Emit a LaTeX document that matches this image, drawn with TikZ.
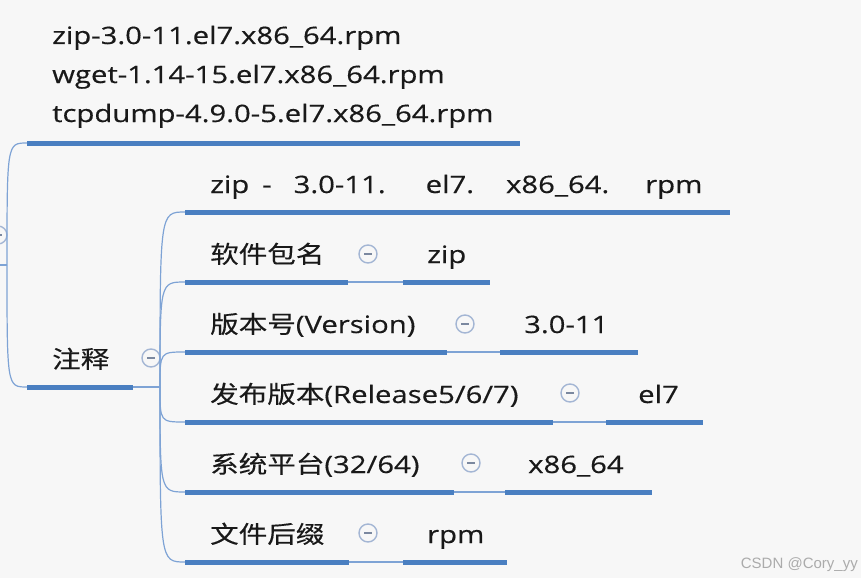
\documentclass[tikz,border=0pt]{standalone}
\usepackage{fontspec}
\newfontfamily\latin[FakeStretch=1.22,FakeBold=0.4]{Open Sans}
\newfontfamily\cjk[FakeStretch=1.19,FakeBold=0.3]{Noto Sans CJK SC}
\newfontfamily\wmark{Liberation Sans}
\definecolor{ublue}{HTML}{4A7FC1}
\definecolor{twigblue}{HTML}{7EA3D5}
\definecolor{ring}{HTML}{A4B6D4}
\definecolor{paper}{HTML}{F7F7F7}
\newcommand{\zh}[1]{{\cjk #1}}

\begin{document}
\begin{tikzpicture}[x=1pt,y=-1pt,
  txt/.style={anchor=base west,inner sep=0pt,font=\latin\fontsize{24}{28}\selectfont,text=black!90},
  uline/.style={draw=ublue,line width=5pt},
  twig/.style={draw=twigblue,line width=1.2pt},
  fold/.style={circle,draw=ring,line width=1.4pt,fill=paper,minimum size=18pt,inner sep=0pt,
    path picture={\draw[ring!75!black,line width=1.2pt] ([xshift=-4pt]path picture bounding box.center)--([xshift=4pt]path picture bounding box.center);}}]
\useasboundingbox (0,0) rectangle (861,578);
\fill[paper] (0,0) rectangle (861,578);

% root (cut off at the left edge)
\node[fold] (f0) at (-2,235) {};
\coordinate (root) at (7,265);\draw[twig] (-2,265)--(root);

% file names
\node[txt] (pkg1) at (52,44){zip-3.0-11.el7.x86\_64.rpm};
\node[txt] (pkg2) at (52,83){wget-1.14-15.el7.x86\_64.rpm};
\node[txt] (pkg3) at (52,122){tcpdump-4.9.0-5.el7.x86\_64.rpm};
\coordinate (pkgL) at (27,143);\coordinate (pkgR) at (520,143);
\draw[twig] (root) .. controls (root |- pkgL) .. (pkgL);
\draw[uline] (pkgL)--(pkgR);

% notes
\node[txt] (note) at (52,368){\zh{注释}};
\coordinate (noteL) at (27,387);\coordinate (noteR) at (133,387);\coordinate (hub) at (160,387);
\draw[twig] (root) .. controls (root |- noteL) .. (noteL);
\draw[twig] (noteR)--(hub);
\draw[uline] (noteL)--(noteR);
\node[fold] (f1) at (151,358) {};

% split of the name
\node[txt] (split) at (210,193){zip\hspace{13pt}-\hspace{22pt}3.0-11.\hspace{40pt}el7.\hspace{32pt}x86\_64.\hspace{36pt}rpm};
\coordinate (splitL) at (185,212);\coordinate (splitR) at (730,212);
\draw[twig] (hub) .. controls (hub |- splitL) .. (splitL);
\draw[uline] (splitL)--(splitR);

% name
\node[txt] (name) at (210,263){\zh{软件包名}};\node[txt] (nameV) at (427,263){zip};
\coordinate (nameL) at (185,282);\coordinate (nameR) at (348,282);\coordinate (nameVL) at (403,282);\coordinate (nameVR) at (490,282);
\draw[twig] (hub) .. controls (hub |- nameL) .. (nameL);
\draw[twig] (nameR)--(nameVL);
\draw[uline] (nameL)--(nameR);\draw[uline] (nameVL)--(nameVR);
\node[fold] (f2) at (368,254) {};

% version
\node[txt] (ver) at (210,333){\zh{版本号}(Version)};\node[txt] (verV) at (524,333){3.0-11};
\coordinate (verL) at (185,352);\coordinate (verR) at (447,352);\coordinate (verVL) at (500,352);\coordinate (verVR) at (638,352);
\draw[twig] (hub) .. controls (hub |- verL) .. (verL);
\draw[twig] (verR)--(verVL);
\draw[uline] (verL)--(verR);\draw[uline] (verVL)--(verVR);
\node[fold] (f3) at (465,324) {};

% release
\node[txt] (rel) at (210,403){\zh{发布版本}(Release5/6/7)};\node[txt] (relV) at (638,403){el7};
\coordinate (relL) at (185,422);\coordinate (relR) at (553,422);\coordinate (relVL) at (606,422);\coordinate (relVR) at (703,422);
\draw[twig] (hub) .. controls (hub |- relL) .. (relL);
\draw[twig] (relR)--(relVL);
\draw[uline] (relL)--(relR);\draw[uline] (relVL)--(relVR);
\node[fold] (f4) at (570,393) {};

% platform
\node[txt] (arch) at (210,473){\zh{系统平台}(32/64)};\node[txt] (archV) at (528,473){x86\_64};
\coordinate (archL) at (185,492);\coordinate (archR) at (454,492);\coordinate (archVL) at (505,492);\coordinate (archVR) at (652,492);
\draw[twig] (hub) .. controls (hub |- archL) .. (archL);
\draw[twig] (archR)--(archVL);
\draw[uline] (archL)--(archR);\draw[uline] (archVL)--(archVR);
\node[fold] (f5) at (471,463) {};

% suffix
\node[txt] (suf) at (210,543){\zh{文件后缀}};\node[txt] (sufV) at (427,543){rpm};
\coordinate (sufL) at (185,562);\coordinate (sufR) at (349,562);\coordinate (sufVL) at (403,562);\coordinate (sufVR) at (507,562);
\draw[twig] (hub) .. controls (hub |- sufL) .. (sufL);
\draw[twig] (sufR)--(sufVL);
\draw[uline] (sufL)--(sufR);\draw[uline] (sufVL)--(sufVR);
\node[fold] (f6) at (368,533) {};

\node[anchor=base east,inner sep=0pt,font=\wmark\fontsize{15}{18}\selectfont,text=black!33] (wm) at (858,568){CSDN @Cory\_yy};
\end{tikzpicture}
\end{document}
